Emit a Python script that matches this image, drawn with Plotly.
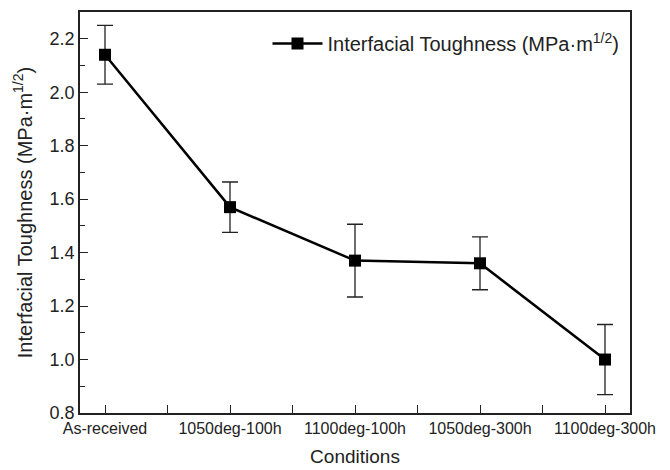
import plotly.graph_objects as go

categories = ["As-received", "1050deg-100h", "1100deg-100h", "1050deg-300h", "1100deg-300h"]
toughness = [2.14, 1.57, 1.37, 1.36, 1.00]
errors = [0.11, 0.094, 0.136, 0.099, 0.131]
y_ticks = [0.8, 1.0, 1.2, 1.4, 1.6, 1.8, 2.0, 2.2]

x_pos = list(range(len(categories)))
font_family = "Liberation Sans"

fig = go.Figure()
fig.add_trace(go.Scatter(
    x=x_pos, y=toughness,
    mode="lines+markers",
    name="Interfacial Toughness (MPa·m<sup>1/2</sup>)",
    line=dict(color="black", width=2.5),
    marker=dict(symbol="square", size=12, color="black"),
    error_y=dict(type="data", array=errors, visible=True, color="#222222", thickness=1.3, width=8),
))

fig.update_layout(
    width=670, height=470,
    margin=dict(l=72, r=48, t=2, b=65),
    paper_bgcolor="white", plot_bgcolor="white",
    font=dict(family=font_family, color="#222222", size=16),
    showlegend=True,
    legend=dict(x=0.99, y=0.97, xanchor="right", yanchor="top",
                font=dict(size=20, family=font_family, color="#222222"),
                bgcolor="rgba(0,0,0,0)", itemwidth=50),
    xaxis=dict(
        range=[-0.2, 4.2], tickvals=x_pos, ticktext=categories,
        ticks="inside", ticklen=8, tickwidth=1.2, tickcolor="#222222",
        minor=dict(dtick=0.5, tick0=0, ticks="inside", ticklen=8, tickwidth=1.2, tickcolor="#222222"),
        showline=True, linecolor="#222222", linewidth=1.5, mirror=True,
        showgrid=False, zeroline=False,
        title=dict(text="Conditions", font=dict(size=19, family=font_family), standoff=14),
        tickfont=dict(size=16, family=font_family),
    ),
    yaxis=dict(
        range=[0.8, 2.3], tickvals=y_ticks, ticktext=[f"{v:.1f}" for v in y_ticks],
        ticks="inside", ticklen=8, tickwidth=1.2, tickcolor="#222222",
        minor=dict(dtick=0.1, tick0=0.8, ticks="inside", ticklen=5, tickwidth=1.2, tickcolor="#222222"),
        showline=True, linecolor="#222222", linewidth=1.5, mirror=True,
        showgrid=False, zeroline=False,
        title=dict(text="Interfacial Toughness (MPa·m<sup>1/2</sup>)", font=dict(size=20, family=font_family), standoff=12),
        tickfont=dict(size=18, family=font_family),
    ),
)

fig.write_html("out.html")
